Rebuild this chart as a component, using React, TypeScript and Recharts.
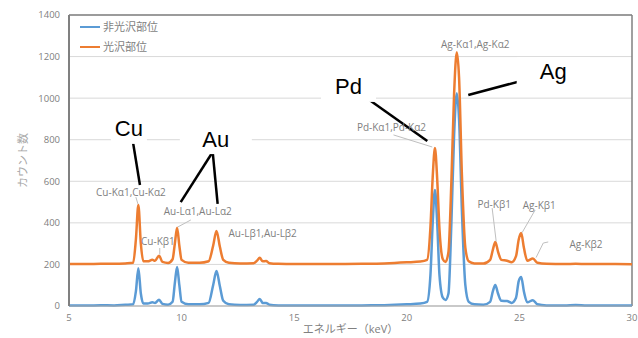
import {
  LineChart,
  Line,
  XAxis,
  YAxis,
  CartesianGrid,
  ReferenceLine,
  ReferenceDot,
} from "recharts";

// エネルギー (keV)
const energy = [
  5.0, 5.8, 6.4, 7.0, 7.5, 7.85, 7.97, 8.08, 8.19, 8.3, 8.5, 8.7, 8.82, 9.0,
  9.15, 9.4, 9.6, 9.7, 9.8, 9.9, 10.0, 10.3, 10.8, 11.2, 11.4, 11.55, 11.7,
  11.85, 12.1, 12.6, 13.2, 13.35, 13.47, 13.6, 13.75, 13.9, 14.3, 15, 16, 17,
  18, 19, 20, 20.6, 20.9, 21.05, 21.15, 21.25, 21.35, 21.45, 21.6, 21.72,
  21.85, 21.98, 22.1, 22.22, 22.32, 22.45, 22.6, 22.75, 23.0, 23.4, 23.7,
  23.82, 23.93, 24.05, 24.2, 24.45, 24.65, 24.85, 24.97, 25.08, 25.2, 25.35,
  25.6, 25.8, 26.2, 27, 27.5, 28, 29, 30,
];

// 非光沢部位
const nonGloss = [
  2, 2, 4, 3, 6, 8, 70, 182, 60, 12, 12, 18, 15, 30,
  10, 6, 20, 110, 188, 100, 20, 8, 8, 15, 100, 168, 95,
  25, 8, 5, 6, 20, 34, 15, 15, 6, 3, 2, 2, 2,
  3, 4, 8, 12, 20, 150, 400, 558, 400, 150, 40, 29,
  60, 400, 820, 1024, 900, 450, 100, 20, 8, 6, 20,
  70, 101, 60, 25, 24, 15, 40, 120, 140, 70, 18,
  28, 8, 3, 2, 5, 2, 2, 2,
];

// 光沢部位
const gloss = [
  202, 202, 203, 203, 205, 208, 320, 486, 300, 215, 215, 222, 218, 242,
  212, 207, 225, 300, 376, 290, 222, 208, 208, 215, 290, 361, 285,
  222, 208, 205, 206, 218, 232, 215, 216, 206, 203, 202, 202, 202,
  203, 205, 210, 214, 222, 380, 620, 760, 610, 370, 225, 212,
  260, 600, 1020, 1221, 1100, 620, 280, 215, 205, 204, 222,
  270, 308, 262, 222, 218, 210, 240, 320, 351, 280, 218,
  228, 208, 203, 202, 203, 202, 202, 201,
];

const seriesNames = ["非光沢部位", "光沢部位"];
const seriesColors = ["#5b9bd5", "#ed7d31"];

const xTicks = [5, 10, 15, 20, 25, 30];
const yTicks = [0, 200, 400, 600, 800, 1000, 1200, 1400];

// peak labels (keV, count)
const peakLabels = [
  { text: "Cu-Kα1,Cu-Kα2", x: 7.75, y: 548 },
  { text: "Cu-Kβ1", x: 8.95, y: 313 },
  { text: "Au-Lα1,Au-Lα2", x: 10.72, y: 457 },
  { text: "Au-Lβ1,Au-Lβ2", x: 13.6, y: 351 },
  { text: "Pd-Kα1,Pd-Kα2", x: 19.32, y: 861 },
  { text: "Ag-Kα1,Ag-Kα2", x: 23.04, y: 1260 },
  { text: "Pd-Kβ1", x: 23.88, y: 491 },
  { text: "Ag-Kβ1", x: 25.88, y: 486 },
  { text: "Ag-Kβ2", x: 27.96, y: 298 },
];

const peakLeaders = [
  [{ x: 7.97, y: 524 }, { x: 8.06, y: 491 }],
  [{ x: 9.03, y: 279 }, { x: 9.03, y: 248 }],
  [{ x: 10.41, y: 414 }, { x: 9.83, y: 380 }],
  [{ x: 19.41, y: 823 }, { x: 21.13, y: 765 }],
  [{ x: 23.79, y: 471 }, { x: 23.97, y: 310 }],
  [{ x: 25.7, y: 462 }, { x: 25.12, y: 353 }],
  [{ x: 26.28, y: 308 }, { x: 26.06, y: 303 }],
  [{ x: 26.06, y: 303 }, { x: 25.74, y: 233 }],
];

// element callouts
const elements = [
  { text: "Cu", x: 7.66, y: 852, w: 36 },
  { text: "Au", x: 11.52, y: 803, w: 72 },
  { text: "Pd", x: 17.41, y: 1054, w: 55 },
  { text: "Ag", x: 26.5, y: 1126, w: 73 },
];

const elementLeaders = [
  [{ x: 7.84, y: 789 }, { x: 8.15, y: 582 }],
  [{ x: 11.38, y: 741 }, { x: 9.96, y: 500 }],
  [{ x: 11.38, y: 741 }, { x: 11.6, y: 491 }],
  [{ x: 18.34, y: 991 }, { x: 20.91, y: 794 }],
  [{ x: 25.57, y: 1097 }, { x: 22.73, y: 1015 }],
];

const data = energy.map((e, i) => ({ e, a: nonGloss[i], b: gloss[i] }));

const FONT = "'Open Sans', 'Noto Sans CJK JP', sans-serif";

export default function App() {
  return (
    <div style={{ position: "absolute", left: 0, top: 0, width: 638, height: 338, background: "#fff" }}>
      <LineChart
        width={638}
        height={338}
        data={data}
        margin={{ top: 15, right: 6, bottom: 12, left: 0 }}
      >
        <CartesianGrid vertical={false} stroke="#d9d9d9" />
        <XAxis
          dataKey="e"
          type="number"
          domain={[5, 30]}
          ticks={xTicks}
          height={20}
          tickSize={0}
          tickMargin={8}
          axisLine={{ stroke: "#a6a6a6" }}
          tick={{ fill: "#808080", fontSize: 9.5, fontFamily: FONT }}
          label={{
            content: ({ viewBox }: any) => (
              <text
                x={viewBox.x + viewBox.width / 2}
                y={333}
                textAnchor="middle"
                fill="#808080"
                fontSize={11}
                fontFamily={FONT}
              >
                エネルギー（keV）
              </text>
            ),
          }}
        />
        <YAxis
          type="number"
          domain={[0, 1400]}
          ticks={yTicks}
          width={69}
          tickSize={0}
          tickMargin={9}
          axisLine={{ stroke: "#808080", strokeWidth: 2 }}
          tick={{ fill: "#808080", fontSize: 9.5, fontFamily: FONT }}
          label={{
            content: ({ viewBox }: any) => (
              <text
                x={22}
                y={viewBox.y + viewBox.height / 2}
                transform={`rotate(-90 22 ${viewBox.y + viewBox.height / 2})`}
                textAnchor="middle"
                dominantBaseline="central"
                fill="#a6a6a6"
                fontSize={11}
                fontFamily={FONT}
              >
                カウント数
              </text>
            ),
          }}
        />
        <ReferenceLine y={1400} stroke="#808080" strokeWidth={1.5} />
        <ReferenceLine x={30} stroke="#808080" strokeWidth={1.5} />
        <Line
          name={seriesNames[0]}
          dataKey="a"
          type="monotone"
          stroke={seriesColors[0]}
          strokeWidth={2.5}
          dot={false}
          isAnimationActive={false}
        />
        <Line
          name={seriesNames[1]}
          dataKey="b"
          type="monotone"
          stroke={seriesColors[1]}
          strokeWidth={2.5}
          dot={false}
          isAnimationActive={false}
        />
        {peakLeaders.map((seg, i) => (
          <ReferenceLine key={`pl${i}`} segment={seg} stroke="#bfbfbf" strokeWidth={1} />
        ))}
        {peakLabels.map((l) => (
          <ReferenceDot
            key={l.text}
            x={l.x}
            y={l.y}
            r={0}
            shape={(p: any) => (
              <text
                x={p.cx}
                y={p.cy}
                textAnchor="middle"
                dominantBaseline="central"
                fill="#7f7f7f"
                fontSize={10}
                fontFamily={FONT}
              >
                {l.text}
              </text>
            )}
          />
        ))}
        {elements.map((l) => (
          <ReferenceDot
            key={l.text}
            x={l.x}
            y={l.y}
            r={0}
            shape={(p: any) => (
              <g>
                <rect x={p.cx - l.w / 2} y={p.cy - 15} width={l.w} height={30} fill="#fff" />
                <text
                  x={p.cx}
                  y={p.cy}
                  textAnchor="middle"
                  dominantBaseline="central"
                  fill="#000"
                  fontSize={22}
                  fontFamily="'Liberation Sans', Arial, sans-serif"
                >
                  {l.text}
                </text>
              </g>
            )}
          />
        ))}
        {elementLeaders.map((seg, i) => (
          <ReferenceLine key={`el${i}`} segment={seg} stroke="#000" strokeWidth={2.5} />
        ))}
      </LineChart>
      {/* legend */}
      <div
        style={{
          position: "absolute",
          left: 80,
          top: 17,
          fontFamily: FONT,
          fontSize: 11,
          color: "#7f7f7f",
          lineHeight: "20px",
        }}
      >
        {seriesNames.map((n, i) => (
          <div key={n} style={{ display: "flex", alignItems: "center", height: 20 }}>
            <span
              style={{
                display: "inline-block",
                width: 20,
                height: 2.5,
                background: seriesColors[i],
                marginRight: 3,
              }}
            />
            {n}
          </div>
        ))}
      </div>
    </div>
  );
}
